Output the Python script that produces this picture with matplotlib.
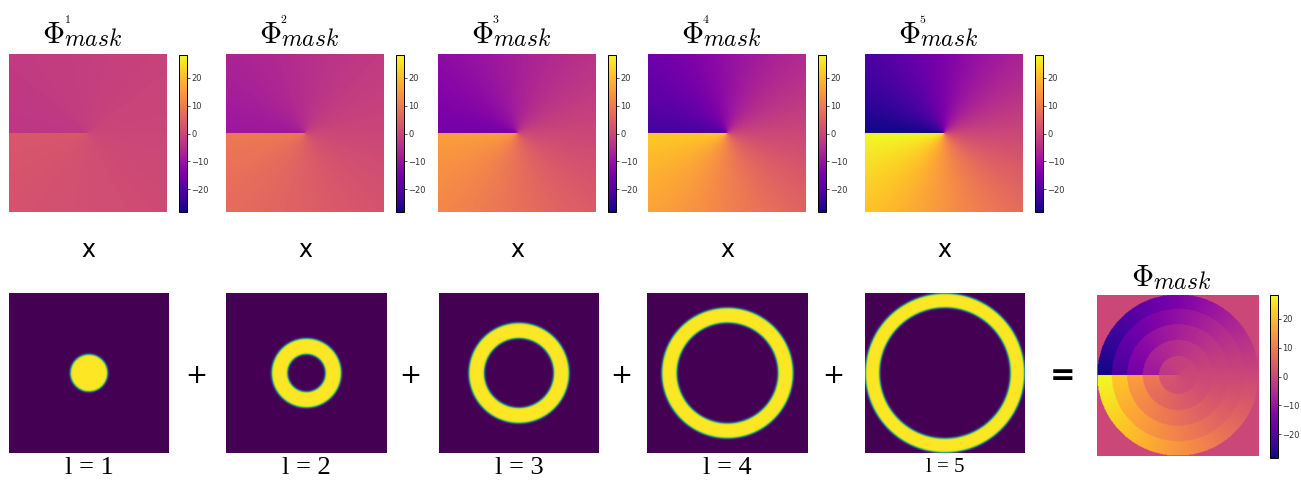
import numpy as np
import matplotlib.pyplot as plt

plt.rcParams['mathtext.fontset'] = 'cm'

# Orders shown and the topological charge of each phase map
orders = [1, 2, 3, 4, 5]
charges = [1, 3, 5, 7, 9]
# Ring edges (fraction of half-width)
ring_inner = [0.0, 0.235, 0.435, 0.63, 0.82]
ring_outer = [0.235, 0.435, 0.63, 0.82, 1.0]
edge_soft = 0.012
vlim = 9 * np.pi
cbar_ticks = [-20, -10, 0, 10, 20]

# pixel layout of the reference (1301 x 482)
W, H = 1301, 482
top_x = [9, 226, 438, 648, 865]
bot_x = [9, 226, 439, 647, 865]


def px(x0, y0, w, h):
    return [x0 / W, 1 - (y0 + h) / H, w / W, h / H]


def put(x, y, s, **kw):
    fig.text(x / W, 1 - y / H, s, **kw)


def style_cbar(cb):
    cb.ax.tick_params(labelsize=6, length=2, width=0.6, colors='#333333', pad=1)
    cb.outline.set_linewidth(0.7)


def phi_title(x_phi, y_base, sup=None):
    # Phi, small superscript order, then the "mask" subscript
    put(x_phi, y_base, r'$\Phi$', fontsize=22, ha='center', va='baseline')
    put(x_phi + 11, y_base + 3, r'$mask$', fontsize=17, ha='left', va='baseline')
    if sup is not None:
        put(x_phi + 14, y_base - 20, r'$%s$' % sup, fontsize=8.5,
            ha='center', va='baseline')


N = 220
c = np.linspace(-1, 1, N)
xx, yy = np.meshgrid(c, c)
r = np.hypot(xx, yy)
theta = np.arctan2(yy, xx)  # row index grows downward with imshow

fig = plt.figure(figsize=(W / 100, H / 100), dpi=100)

combined = np.zeros_like(r)
for i, l in enumerate(orders):
    phase = charges[i] * theta

    # top row: phase map with colorbar
    ax = fig.add_axes(px(top_x[i], 54, 158, 158))
    im = ax.imshow(phase, cmap='plasma', vmin=-vlim, vmax=vlim)
    ax.axis('off')
    cax = fig.add_axes(px(top_x[i] + 170, 55, 8, 157))
    style_cbar(fig.colorbar(im, cax=cax, ticks=cbar_ticks))
    phi_title(top_x[i] + 44, 43, str(l))

    # multiplication sign
    put(top_x[i] + 79, 250, 'x', fontsize=17, ha='center', va='center')

    # bottom row: ring masks
    if ring_inner[i] == 0:
        mask = 0.5 * (1 - np.tanh((r - ring_outer[i]) / edge_soft))
    else:
        mask = 0.5 * (np.tanh((r - ring_inner[i]) / edge_soft) -
                      np.tanh((r - ring_outer[i]) / edge_soft))
    ax = fig.add_axes(px(bot_x[i], 293, 160, 160))
    ax.imshow(mask, cmap='viridis', vmin=0, vmax=1)
    ax.axis('off')
    fs = 15 if l == 5 else 19
    put(bot_x[i] + 80, 468, 'l = %d' % l, fontsize=fs,
        family='Liberation Serif', ha='center', va='center')

    sel = (r >= ring_inner[i]) & (r < ring_outer[i])
    combined[sel] = phase[sel]

for x in [196, 410, 621, 833]:
    put(x, 376, '+', fontsize=19, ha='center', va='center')
put(1063, 376, '=', fontsize=22, fontweight='bold', ha='center', va='center')

# combined mask
ax = fig.add_axes(px(1097, 294, 162, 163))
im = ax.imshow(combined, cmap='plasma', vmin=-vlim, vmax=vlim)
ax.axis('off')
cax = fig.add_axes(px(1270, 295, 8, 163))
style_cbar(fig.colorbar(im, cax=cax, ticks=cbar_ticks))
phi_title(1142, 286)

fig.savefig('out.png', dpi=100)
